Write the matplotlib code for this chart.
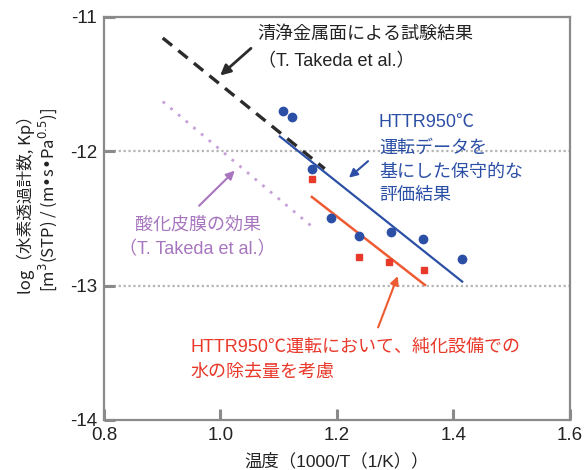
import matplotlib

matplotlib.use("Agg")

import matplotlib.pyplot as plt

plt.rcParams["font.family"] = ["Liberation Sans", "Noto Sans CJK JP", "DejaVu Sans"]
plt.rcParams["axes.unicode_minus"] = False

# ── data ────────────────────────────────────────────────────────────────────
# clean-metal-surface test result (black dashed fit)
clean_x = [0.901, 1.179]
clean_y = [-11.157, -12.13]
# oxide-film effect (purple dotted)
oxide_x = [0.901, 1.157]
oxide_y = [-11.63, -12.56]
# HTTR 950C operation data: conservative evaluation (blue)
httr_x = [1.107, 1.123, 1.157, 1.190, 1.238, 1.292, 1.348, 1.414]
httr_y = [-11.70, -11.745, -12.13, -12.50, -12.63, -12.60, -12.65, -12.80]
httr_fit_x = [1.102, 1.415]
httr_fit_y = [-11.89, -12.97]
# with water removal in purification system (red)
purif_x = [1.157, 1.238, 1.290, 1.349]
purif_y = [-12.21, -12.79, -12.825, -12.88]
purif_fit_x = [1.157, 1.351]
purif_fit_y = [-12.34, -12.995]

xticks = [0.8, 1.0, 1.2, 1.4, 1.6]
yticks = [-11, -12, -13, -14]

BLUE = "#2c4fa6"
RED = "#e8392a"
ORANGE = "#ee5a32"
PURPLE_TXT = "#a776bf"
PURPLE_LN = "#c7a0da"
FRAME = "#8a8a8a"

fig = plt.figure(figsize=(5.87, 4.70), dpi=100)
ax = fig.add_axes([0.177, 0.1064, 0.794, 0.8576])

for v in (-12, -13):
    ax.axhline(v, color="#b4b4b4", linewidth=1.6, linestyle=(0, (1, 1.2)), zorder=1)

ax.plot(clean_x, clean_y, color="#2b2b2b", linewidth=2.4, dashes=(3.6, 2.4), zorder=3)
ax.plot(oxide_x, oxide_y, color=PURPLE_LN, linewidth=2.0, linestyle=(0, (1, 2.6)), zorder=2)
ax.plot(httr_fit_x, httr_fit_y, color=BLUE, linewidth=1.6, zorder=4)
ax.plot(purif_fit_x, purif_fit_y, color=ORANGE, linewidth=1.8, zorder=4)
ax.plot(httr_x, httr_y, "o", color=BLUE, markersize=6, zorder=5)
ax.plot(purif_x, purif_y, "s", color=RED, markersize=5, zorder=5)

# annotations
ax.annotate("", xy=(0.996, -11.45), xytext=(1.056, -11.22),
            arrowprops=dict(arrowstyle="-|>,head_length=0.6,head_width=0.3",
                            color="#2b2b2b", lw=2.0))
ax.text(1.064, -11.134, "清浄金属面による試験結果", fontsize=13, color="#222222",
        ha="left", va="center")
ax.text(1.064, -11.335, "（T. Takeda et al.）", fontsize=13, color="#222222",
        ha="left", va="center")

ax.annotate("", xy=(1.028, -12.13), xytext=(0.960, -12.42),
            arrowprops=dict(arrowstyle="-|>,head_length=0.5,head_width=0.25",
                            color=PURPLE_TXT, lw=1.5))
ax.text(0.961, -12.549, "酸化皮膜の効果", fontsize=13, color=PURPLE_TXT,
        ha="center", va="center")
ax.text(0.961, -12.735, "（T. Takeda et al.）", fontsize=13, color=PURPLE_TXT,
        ha="center", va="center")

ax.annotate("", xy=(1.217, -12.21), xytext=(1.257, -12.06),
            arrowprops=dict(arrowstyle="-|>,head_length=0.5,head_width=0.25",
                            color=BLUE, lw=1.5))
for txt, yy in zip(["HTTR950℃", "運転データを", "基にした保守的な", "評価結果"],
                   [-11.789, -11.975, -12.154, -12.325]):
    ax.text(1.272, yy, txt, fontsize=13, color=BLUE, ha="left", va="center")

ax.annotate("", xy=(1.306, -12.91), xytext=(1.269, -13.33),
            arrowprops=dict(arrowstyle="-|>,head_length=0.5,head_width=0.25",
                            color=ORANGE, lw=1.5))
ax.text(0.948, -13.457, "HTTR950℃運転において、純化設備での", fontsize=13, color=RED,
        ha="left", va="center")
ax.text(0.948, -13.643, "水の除去量を考慮", fontsize=13, color=RED,
        ha="left", va="center")

ax.set_xlim(0.8, 1.6)
ax.set_ylim(-14, -11)
ax.set_xticks(xticks)
ax.set_xticklabels([f"{v:.1f}" for v in xticks])
ax.set_yticks(yticks)
ax.set_yticklabels([str(v) for v in yticks])
ax.tick_params(direction="in", length=8, width=2.2, color=FRAME,
               labelsize=13.5, labelcolor="#222222")
ax.tick_params(axis="x", pad=5)
ax.tick_params(axis="y", pad=5)
for sp in ax.spines.values():
    sp.set_color(FRAME)
    sp.set_linewidth(1.6)

ax.set_xlabel("温度（1000/T（1/K））", fontsize=12.5, color="#222222", labelpad=6)
# mathtext only takes the first family, so this label uses the CJK font alone
fig.text(0.064, 0.574, "log（水素透過計数, Kp）\n[m$^3$(STP) / (m•s•Pa$^{0.5}$)]",
         rotation=90, fontsize=12, color="#222222", ha="center", va="center",
         multialignment="center", linespacing=1.1, family="Noto Sans CJK JP")

fig.savefig("out.png", dpi=100)
